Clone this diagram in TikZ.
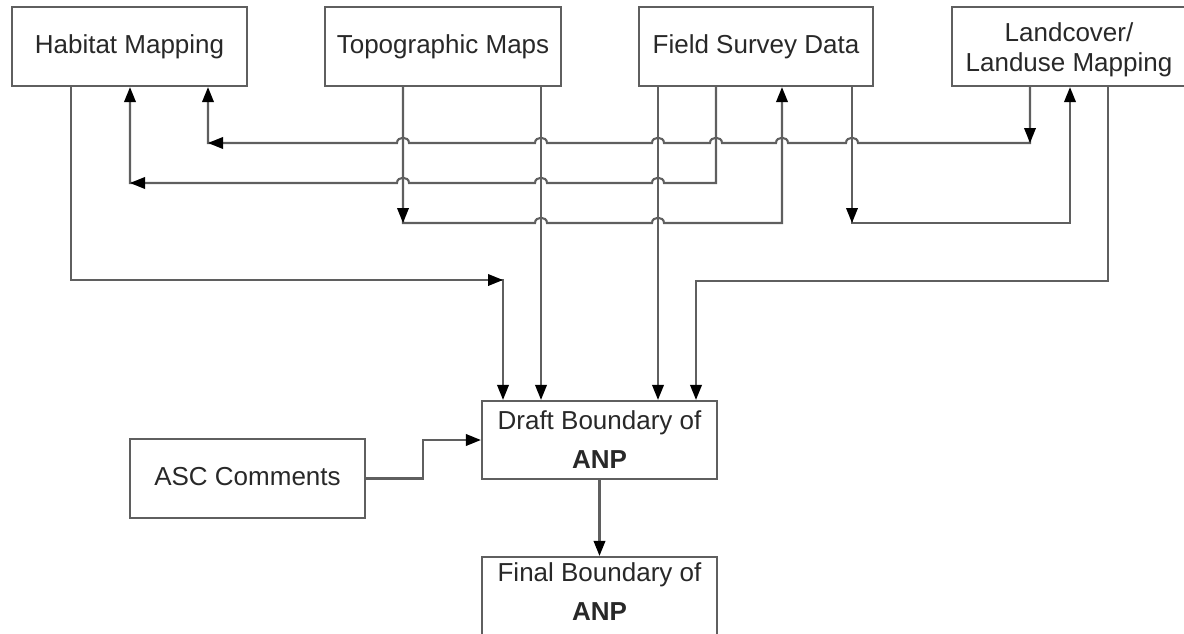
\documentclass[tikz,border=0pt]{standalone}
\usepackage{fontspec}
\setmainfont{Liberation Sans}
\usetikzlibrary{arrows.meta}
\definecolor{ln}{RGB}{95,95,95}
\definecolor{txt}{RGB}{40,40,40}
\begin{document}
\begin{tikzpicture}[x=1pt,y=-1pt,
  box/.style={draw=ln, line width=2.2pt, inner sep=0pt, align=center, text=txt,
    font=\fontsize{26}{30}\selectfont, minimum width=235pt, minimum height=79pt},
  one/.style={text height=19pt, text depth=5.5pt},
  conn/.style={draw=ln, line width=2.1pt, line join=miter},
  arr/.style={-{Triangle[length=15pt,width=11.5pt,color=black]}},
  hopL/.style args={#1/#2}{insert path={-- (#1+6,#2) .. controls (#1+6,#2-7) and (#1-6,#2-7) .. (#1-6,#2)}},
  hopR/.style args={#1/#2}{insert path={-- (#1-6,#2) .. controls (#1-6,#2-7) and (#1+6,#2-7) .. (#1+6,#2)}},
]
\useasboundingbox (0,0) rectangle (1184,634);

\node[box,one] (hab) at (129.5,46.5) {Habitat Mapping};
\node[box,one,minimum width=236pt] (topo) at (443,46.5) {Topographic Maps};
\node[box,one,minimum width=234pt] (field) at (756,46.5) {Field Survey Data};
\node[box,minimum width=234pt] (land) at (1069,46.5) {\rule{0pt}{25pt}Landcover/\\Landuse Mapping};
\node[box,minimum height=78pt,font=\fontsize{26}{39}\selectfont] (draft) at (599.5,440) {Draft Boundary of\\\textbf{ANP}};
\node[box,one] (asc) at (247.5,478.5) {ASC Comments};
\node[box,minimum height=83pt,font=\fontsize{26}{39}\selectfont] (final) at (599.5,598.5) {Final Boundary of\\\textbf{ANP}\rule[-13pt]{0pt}{13pt}};

% Landcover -> Habitat
\draw[conn,arr] ([xshift=-39]land.south) -- (1030,143) [hopL=852/143] [hopL=782/143] [hopL=716/143] [hopL=658/143] [hopL=541/143] [hopL=403/143] -- (208,143) -- ([xshift=78.5]hab.south);
\draw[conn,arr] (1030,125) -- (1030,143);
\draw[conn,arr] (228,143) -- (208,143);

% Field -> Habitat
\draw[conn,arr] ([xshift=-40]field.south) -- (716,183) [hopL=658/183] [hopL=541/183] [hopL=403/183] -- (130,183) -- ([xshift=0.5]hab.south);
\draw[conn,arr] (150,183) -- (130,183);

% Topo -> Field
\draw[conn,arr] ([xshift=-40]topo.south) -- (403,223) [hopR=541/223] [hopR=658/223] -- (782,223) -- ([xshift=26]field.south);
\draw[conn,arr] (403,203) -- (403,223);

% Field -> Landcover
\draw[conn,arr] ([xshift=96]field.south) -- (852,223) -- (1070,223) -- ([xshift=1]land.south);
\draw[conn,arr] (852,203) -- (852,223);

% Habitat -> Draft
\draw[conn,arr] ([xshift=-58.5]hab.south) -- (71,280) -- (503,280) -- ([xshift=-96.5]draft.north);
\draw[conn,arr] (483,280) -- (503,280);

% Topo -> Draft, Field -> Draft
\draw[conn,arr] ([xshift=98]topo.south) -- ([xshift=-58.5]draft.north);
\draw[conn,arr] ([xshift=-98]field.south) -- ([xshift=58.5]draft.north);

% Landcover -> Draft
\draw[conn,arr] ([xshift=39]land.south) -- (1108,281) -- (696,281) -- ([xshift=96.5]draft.north);

% ASC -> Draft
\draw[conn,arr] (asc.east) -- (423,478.5) -- (423,440) -- (draft.west);

% Draft -> Final
\draw[conn,arr] (draft.south) -- (final.north);
\end{tikzpicture}
\end{document}
